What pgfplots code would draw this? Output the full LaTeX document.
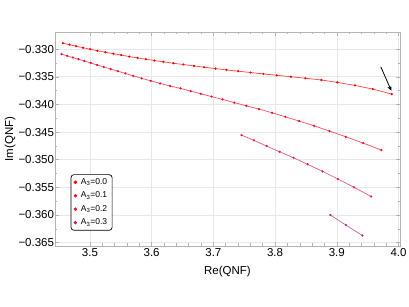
\documentclass[border=0pt]{standalone}
\usepackage{fontspec}
\setmainfont{Liberation Sans}
\usepackage{pgfplots}
\pgfplotsset{compat=1.18}
\usetikzlibrary{arrows.meta}
\definecolor{c0}{HTML}{FF0000}
\definecolor{c1}{HTML}{F2102E}
\definecolor{c2}{HTML}{DC1E55}
\definecolor{c3}{HTML}{B8287A}
\definecolor{frameg}{HTML}{B4B4B4}
\definecolor{gridg}{HTML}{E8E8E8}
\begin{document}
\begin{tikzpicture}
\useasboundingbox (-55pt,-61pt) rectangle (354pt,246pt);
\begin{axis}[
  at={(0,0)}, anchor=south west, scale only axis,
  width=345pt, height=214pt,
  xmin=3.4434, xmax=4.0024, ymin=-0.3656, ymax=-0.3269,
  font=\fontsize{11.5}{13}\selectfont,
  xtick={3.5,3.6,3.7,3.8,3.9,4.0},
  xticklabels={3.5,3.6,3.7,3.8,3.9,4.0},
  ytick={-0.365,-0.36,-0.355,-0.35,-0.345,-0.34,-0.335,-0.33},
  yticklabels={−0.365,−0.360,−0.355,−0.350,−0.345,−0.340,−0.335,−0.330},
  minor x tick num=4, minor y tick num=1,
  tick align=inside, major tick length=4pt, minor tick length=2.5pt,
  every tick/.style={frameg, line width=0.5pt},
  axis line style={frameg, line width=0.6pt},
  grid=major, major grid style={gridg, line width=0.6pt},
  xticklabel style={inner sep=2.5pt},
  yticklabel style={inner sep=0.8pt},
  xlabel={Re(QNF)}, ylabel={Im(QNF)},
  xlabel style={at={(axis description cs:0.5,-0.091)}, anchor=north, inner sep=0pt},
  ylabel style={at={(axis description cs:-0.146,0.5)}, anchor=north, inner sep=0pt},
  legend image code/.code={\draw[#1] plot coordinates {(0.1cm,0cm)};},
  legend style={at={(axis description cs:0.0455,0.0715)}, anchor=south west,
    draw=black, rounded corners=3pt, line width=0.7pt,
    font=\fontsize{8.5}{10}\selectfont, inner xsep=3pt, inner ysep=2pt,
    row sep=2pt, column sep=2pt, cells={anchor=west}},
]
\addplot[c0!70!white, line width=0.75pt, mark=*, mark size=0.7pt, mark options={fill=c0, draw=c0}, forget plot] coordinates {
(3.4561,-0.32892) (3.4669,-0.32920) (3.4777,-0.32947) (3.4890,-0.32975)
(3.5003,-0.33002) (3.5121,-0.33029) (3.5250,-0.33056) (3.5379,-0.33083)
(3.5508,-0.33108) (3.5637,-0.33134) (3.5771,-0.33159) (3.5906,-0.33183)
(3.6045,-0.33206) (3.6190,-0.33229) (3.6352,-0.33255) (3.6513,-0.33278)
(3.6685,-0.33303) (3.6852,-0.33327) (3.7035,-0.33352) (3.7213,-0.33376)
(3.7403,-0.33399) (3.7602,-0.33423) (3.7811,-0.33448) (3.8027,-0.33473)
(3.8255,-0.33499) (3.8492,-0.33526) (3.8750,-0.33558) (3.9008,-0.33602)
(3.9294,-0.33656) (3.9584,-0.33723) (3.9890,-0.33813)
};
\addplot[c1!70!white, line width=0.75pt, mark=*, mark size=0.7pt, mark options={fill=c1, draw=c1}, forget plot] coordinates {
(3.4540,-0.33090) (3.4631,-0.33121) (3.4723,-0.33152) (3.4815,-0.33182)
(3.4911,-0.33215) (3.5013,-0.33249) (3.5116,-0.33286) (3.5223,-0.33322)
(3.5335,-0.33360) (3.5452,-0.33399) (3.5573,-0.33439) (3.5702,-0.33482)
(3.5839,-0.33528) (3.5984,-0.33573) (3.6137,-0.33620) (3.6298,-0.33667)
(3.6468,-0.33710) (3.6632,-0.33759) (3.6798,-0.33808) (3.6971,-0.33858)
(3.7148,-0.33909) (3.7339,-0.33967) (3.7535,-0.34025) (3.7739,-0.34084)
(3.7952,-0.34151) (3.8165,-0.34223) (3.8390,-0.34301) (3.8632,-0.34386)
(3.8882,-0.34482) (3.9145,-0.34585) (3.9427,-0.34699) (3.9723,-0.34825)
};
\addplot[c2!70!white, line width=0.75pt, mark=*, mark size=0.7pt, mark options={fill=c2, draw=c2}, forget plot] coordinates {
(3.7455,-0.34554) (3.7658,-0.34650) (3.7863,-0.34753) (3.8073,-0.34856)
(3.8298,-0.34964) (3.8527,-0.35083) (3.8769,-0.35210) (3.9019,-0.35349)
(3.9279,-0.35499) (3.9556,-0.35665)
};
\addplot[c3!70!white, line width=0.75pt, mark=*, mark size=0.7pt, mark options={fill=c3, draw=c3}, forget plot] coordinates {
(3.8895,-0.36000) (3.9148,-0.36181) (3.9415,-0.36371)
};
\addlegendimage{only marks, mark=*, mark size=1.4pt, c0}
\addlegendentry{A\textsubscript{3}=0.0}
\addlegendimage{only marks, mark=*, mark size=1.4pt, c1}
\addlegendentry{A\textsubscript{3}=0.1}
\addlegendimage{only marks, mark=*, mark size=1.4pt, c2}
\addlegendentry{A\textsubscript{3}=0.2}
\addlegendimage{only marks, mark=*, mark size=1.4pt, c3}
\addlegendentry{A\textsubscript{3}=0.3}
\draw[-{Stealth[length=5pt,width=4pt]}, line width=0.8pt, black] (axis cs:3.9713,-0.3332) -- (axis cs:3.9884,-0.33754);
\end{axis}
\end{tikzpicture}
\end{document}
